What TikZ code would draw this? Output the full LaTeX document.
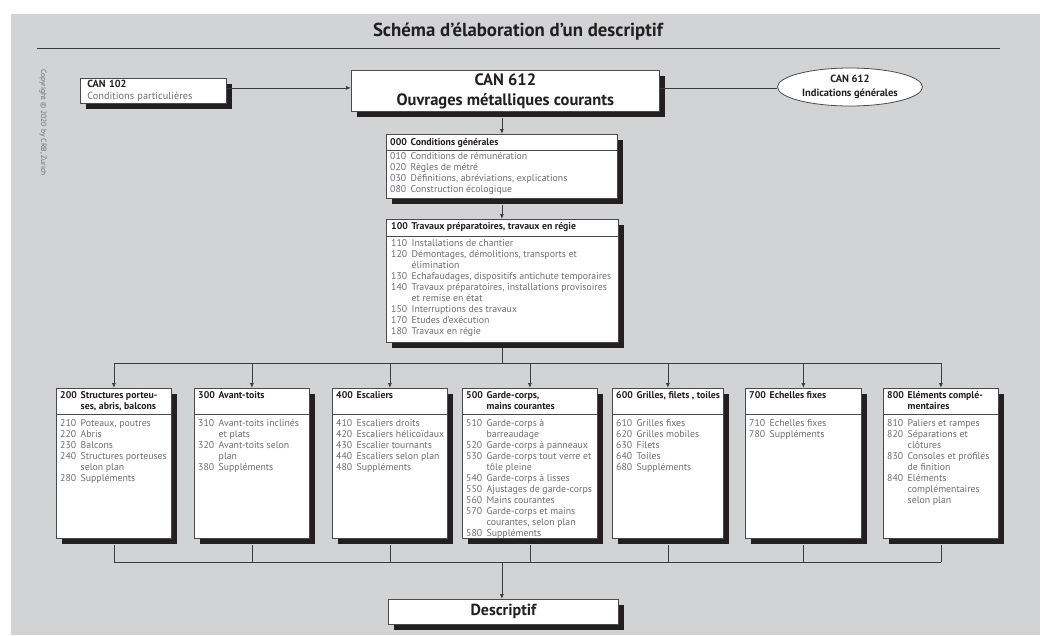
\documentclass[tikz,border=0pt]{standalone}
\usepackage{fontspec}
\setmainfont{PT Sans}
\usetikzlibrary{arrows.meta,shapes.geometric,shadows}

\definecolor{panel}{HTML}{D1D3D4}
\definecolor{shade}{HTML}{231F20}
\definecolor{ink}{HTML}{231F20}
\definecolor{soft}{HTML}{6D6E71}
\definecolor{wire}{HTML}{3C3C3E}
\definecolor{frame}{HTML}{4A4A4C}

% numbered entry and its continuation line
\newcommand\cn[2]{\makebox[20.5pt][l]{#1}#2}
\newcommand\cc[1]{\makebox[20.5pt][l]{}#1}

\tikzset{
  card/.style={rectangle, draw=frame, line width=0.8pt, fill=white,
    anchor=north west, inner sep=0pt,
    drop shadow={shadow xshift=6pt, shadow yshift=-6pt, fill=shade, opacity=1}},
  head/.style={anchor=north west, inner sep=0pt, align=left,
    font=\fontsize{9.8}{11}\selectfont\bfseries, text=ink},
  list/.style={anchor=north west, inner sep=0pt, align=left,
    font=\fontsize{9.8}{11}\selectfont, text=soft},
  rule/.style={draw=frame, line width=0.8pt},
  link/.style={draw=wire, line width=0.8pt},
  arr/.style={link, -{Latex[length=5pt,width=4pt]}}
}

\begin{document}
\begin{tikzpicture}[x=1pt,y=-1pt]
\fill[white] (0,0) rectangle (1044,635);
\useasboundingbox (0,0) rectangle (1044,635);
\fill[panel] (11,14) rectangle (1040,635);

% title and rule
\node[font=\fontsize{18.8}{20}\selectfont\bfseries, text=ink] (title) at (518,32)
  {Schéma d’élaboration d’un descriptif};
\coordinate (ruleL) at (37,48);
\coordinate (ruleR) at (1000,48);
\draw[draw=wire, line width=0.8pt] (ruleL) -- (ruleR);

% copyright line
\node[rotate=-90, anchor=west, inner sep=0pt, text=soft,
  font=\fontsize{7.6}{9}\selectfont] (copy) at (43,69)
  {Copyright~©~2020 by CRB, Zurich};

% top row
\node[card, minimum width=146pt, minimum height=25pt, align=left,
  text width=132pt, inner xsep=7pt] (can102) at (80,78)
  {{\fontsize{10.3}{13}\selectfont\bfseries\color{ink}CAN 102}\\
   {\fontsize{10.3}{11}\selectfont\color{soft}Conditions particulières}};
\node[card, minimum width=308pt, minimum height=41pt, align=center,
  font=\fontsize{16.5}{20}\selectfont\bfseries, text=ink] (can612) at (351,70)
  {CAN 612\\Ouvrages métalliques courants};
\node[ellipse, draw=frame, line width=0.8pt, fill=white, minimum width=145pt,
  minimum height=38pt, inner sep=0pt, align=center,
  font=\fontsize{10.5}{14}\selectfont\bfseries, text=ink] (info) at (850,87)
  {CAN 612\\Indications générales};

% 000
\node[card, minimum width=231pt, minimum height=64pt] (b000) at (386,134) {};
\draw[rule] ([yshift=-16pt]b000.north west) -- ([yshift=-16pt]b000.north east);
\node[head] at ([xshift=4pt,yshift=-4pt]b000.north west) {\cn{000}{Conditions générales}};
\node[list] at ([xshift=4pt,yshift=-18pt]b000.north west)
  {\cn{010}{Conditions de rémunération}\\
   \cn{020}{Règles de métré}\\
   \cn{030}{Définitions, abréviations, explications}\\
   \cn{080}{Construction écologique}};

% 100
\node[card, minimum width=232pt, minimum height=123pt] (b100) at (386,219) {};
\draw[rule] ([yshift=-17pt]b100.north west) -- ([yshift=-17pt]b100.north east);
\node[head] at ([xshift=5pt,yshift=-3pt]b100.north west) {\cn{100}{Travaux préparatoires, travaux en régie}};
\node[list] at ([xshift=5pt,yshift=-20pt]b100.north west)
  {\cn{110}{Installations de chantier}\\
   \cn{120}{Démontages, démolitions, transports et}\\
   \cc{élimination}\\
   \cn{130}{Echafaudages, dispositifs antichute temporaires}\\
   \cn{140}{Travaux préparatoires, installations provisoires}\\
   \cc{et remise en état}\\
   \cn{150}{Interruptions des travaux}\\
   \cn{170}{Etudes d’exécution}\\
   \cn{180}{Travaux en régie}};

% chapter boxes
\node[card, minimum width=115pt, minimum height=150pt] (b2) at (56,388) {};
\node[card, minimum width=115pt, minimum height=150pt] (b3) at (194,388) {};
\node[card, minimum width=115pt, minimum height=150pt] (b4) at (332,388) {};
\node[card, minimum width=135pt, minimum height=150pt] (b5) at (462,388) {};
\node[card, minimum width=111pt, minimum height=150pt] (b6) at (612,388) {};
\node[card, minimum width=116pt, minimum height=150pt] (b7) at (745,388) {};
\node[card, minimum width=115pt, minimum height=150pt] (b8) at (883,388) {};
\foreach \b in {b2,b3,b4,b5,b6,b7,b8}{
  \draw[rule] ([yshift=-26pt]\b.north west) -- ([yshift=-26pt]\b.north east);
}

\node[head] at ([xshift=4pt,yshift=-3pt]b2.north west)
  {\cn{200}{Structures porteu-}\\\cc{ses, abris, balcons}};
\node[list] at ([xshift=4pt,yshift=-31pt]b2.north west)
  {\cn{210}{Poteaux, poutres}\\
   \cn{220}{Abris}\\
   \cn{230}{Balcons}\\
   \cn{240}{Structures porteuses}\\
   \cc{selon plan}\\
   \cn{280}{Suppléments}};

\node[head] at ([xshift=4pt,yshift=-3pt]b3.north west) {\cn{300}{Avant-toits}};
\node[list] at ([xshift=4pt,yshift=-31pt]b3.north west)
  {\cn{310}{Avant-toits inclinés}\\
   \cc{et plats}\\
   \cn{320}{Avant-toits selon}\\
   \cc{plan}\\
   \cn{380}{Suppléments}};

\node[head] at ([xshift=4pt,yshift=-3pt]b4.north west) {\cn{400}{Escaliers}};
\node[list] at ([xshift=4pt,yshift=-31pt]b4.north west)
  {\cn{410}{Escaliers droits}\\
   \cn{420}{Escaliers hélicoïdaux}\\
   \cn{430}{Escalier tournants}\\
   \cn{440}{Escaliers selon plan}\\
   \cn{480}{Suppléments}};

\node[head] at ([xshift=4pt,yshift=-3pt]b5.north west)
  {\cn{500}{Garde-corps,}\\\cc{mains courantes}};
\node[list] at ([xshift=4pt,yshift=-31pt]b5.north west)
  {\cn{510}{Garde-corps à}\\
   \cc{barreaudage}\\
   \cn{520}{Garde-corps à panneaux}\\
   \cn{530}{Garde-corps tout verre et}\\
   \cc{tôle pleine}\\
   \cn{540}{Garde-corps à lisses}\\
   \cn{550}{Ajustages de garde-corps}\\
   \cn{560}{Mains courantes}\\
   \cn{570}{Garde-corps et mains}\\
   \cc{courantes, selon plan}\\
   \cn{580}{Suppléments}};

\node[head] at ([xshift=4pt,yshift=-3pt]b6.north west) {\cn{600}{Grilles, filets , toiles}};
\node[list] at ([xshift=4pt,yshift=-31pt]b6.north west)
  {\cn{610}{Grilles fixes}\\
   \cn{620}{Grilles mobiles}\\
   \cn{630}{Filets}\\
   \cn{640}{Toiles}\\
   \cn{680}{Suppléments}};

\node[head] at ([xshift=4pt,yshift=-3pt]b7.north west) {\cn{700}{Echelles fixes}};
\node[list] at ([xshift=4pt,yshift=-31pt]b7.north west)
  {\cn{710}{Echelles fixes}\\
   \cn{780}{Suppléments}};

\node[head] at ([xshift=4pt,yshift=-3pt]b8.north west)
  {\cn{800}{Eléments complé-}\\\cc{mentaires}};
\node[list] at ([xshift=4pt,yshift=-31pt]b8.north west)
  {\cn{810}{Paliers et rampes}\\
   \cn{820}{Séparations et}\\
   \cc{clôtures}\\
   \cn{830}{Consoles et profilés}\\
   \cc{de finition}\\
   \cn{840}{Eléments}\\
   \cc{complémentaires}\\
   \cc{selon plan}};

% result
\node[card, minimum width=230pt, minimum height=25pt,
  font=\fontsize{16}{18}\selectfont\bfseries, text=ink] (desc) at (388,599) {Descriptif};

% connectors
\coordinate (l1) at ([yshift=3pt]can102.east);
\coordinate (tbus) at (0,363);
\coordinate (bbus) at (0,562);
\draw[arr] (l1) -- (l1 -| can612.west);
\draw[link] (l1 -| can612.east) -- (l1 -| info.west);
\draw[arr] ([yshift=-6pt]b000.north |- can612.south) -- (b000.north);
\draw[arr] ([yshift=-6pt]b000.south) -- (b000.south |- b100.north);
\draw[link] ([yshift=-5pt]b000.south |- b100.south) -- (b000.south |- tbus);
\draw[link] (b2.north |- tbus) -- (b8.north |- tbus);
\foreach \b in {b2,b3,b4,b5,b6,b7,b8}{
  \draw[arr] (\b.north |- tbus) -- (\b.north);
  \draw[link] ([yshift=-6pt]\b.south) -- (\b.south |- bbus);
}
\draw[link] (b2.south |- bbus) -- (b8.south |- bbus);
\draw[arr] (b000.south |- bbus) -- (b000.south |- desc.north);
\end{tikzpicture}
\end{document}
